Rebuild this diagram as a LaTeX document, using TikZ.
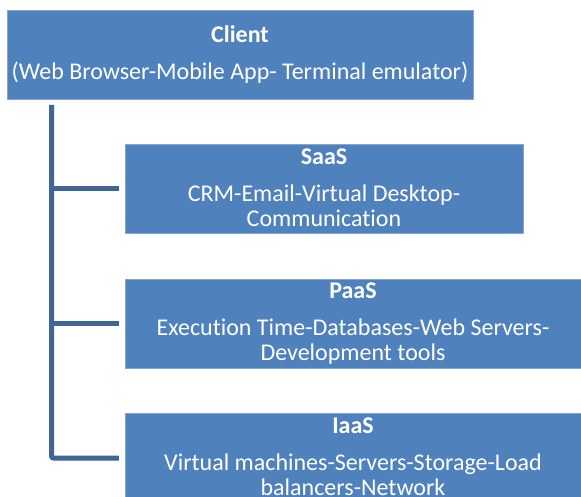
\documentclass[tikz,border=0pt]{standalone}
\usepackage{fontspec}
\setmainfont[Ligatures=NoCommon]{Carlito}
\definecolor{boxblue}{HTML}{4F81BD}
\definecolor{lineblue}{HTML}{3F6696}
\begin{document}
\begin{tikzpicture}[x=1pt,y=-1pt,
  box/.style={fill=boxblue,draw=boxblue!70!white,line width=0.6pt},
  conn/.style={draw=lineblue,line width=5pt},
  ttl/.style={text=white,font=\fontsize{24}{25}\selectfont\bfseries,anchor=base,inner sep=0pt},
  txt/.style={text=white,font=\fontsize{24}{25}\selectfont,anchor=base,inner sep=0pt,align=center}]
\clip (0,0) rectangle (581,497);
\fill[white] (0,0) rectangle (581,497);
\path[box] (7,10) rectangle (473,99);
\node[inner sep=0pt,minimum width=466pt,minimum height=89pt] (client) at (240,54.5) {};
\path[box] (125,144) rectangle (523,233);
\node[inner sep=0pt,minimum width=398pt,minimum height=89pt] (saas) at (324,188.5) {};
\path[box] (125,279) rectangle (600,368);
\node[inner sep=0pt,minimum width=475pt,minimum height=89pt] (paas) at (362.5,323.5) {};
\path[box] (125,413) rectangle (600,503);
\node[inner sep=0pt,minimum width=475pt,minimum height=90pt] (iaas) at (362.5,458) {};

\node[ttl] at (240,43) {Client};
\node[txt] at (240,80) {(Web Browser-Mobile App- Terminal emulator)};
\node[ttl] at (324,165) {SaaS};
\node[txt] at (324,227) {CRM-Email-Virtual Desktop-\\Communication};
\node[ttl] at (353,298) {PaaS};
\node[txt] at (353,360) {Execution Time-Databases-Web Servers-\\Development tools};
\node[ttl] at (353,433) {IaaS};
\node[txt] at (353,495) {Virtual machines-Servers-Storage-Load\\balancers-Network};

\coordinate (top) at (51.5,105);
\draw[conn,rounded corners=2pt] (top) |- ([xshift=-6pt]iaas.west);
\draw[conn] (51.5,188.5) -- ([xshift=-6pt]saas.west);
\draw[conn] (51.5,323.5) -- ([xshift=-6pt]paas.west);
\end{tikzpicture}
\end{document}
